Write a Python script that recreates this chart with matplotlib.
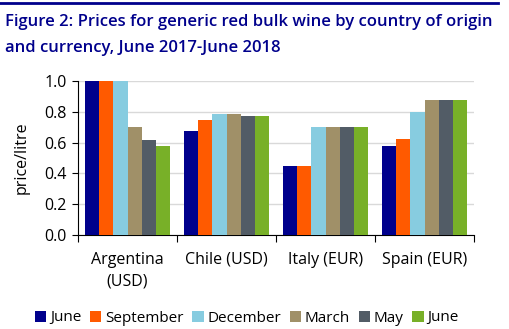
import matplotlib
matplotlib.use("Agg")
import matplotlib.pyplot as plt
import numpy as np
from matplotlib.patches import Patch
from matplotlib.lines import Line2D
import matplotlib.transforms as mtransforms

plt.rcParams['font.family'] = ['Open Sans', 'DejaVu Sans']

categories = ["Argentina\n(USD)", "Chile (USD)", "Italy (EUR)", "Spain (EUR)"]
series_names = ["June", "September", "December", "March", "May", "June"]
values = [
    [1.00, 0.675, 0.45, 0.575],   # June 2017
    [1.00, 0.75, 0.45, 0.625],    # September
    [1.00, 0.785, 0.70, 0.80],    # December
    [0.70, 0.785, 0.70, 0.875],   # March
    [0.62, 0.775, 0.70, 0.875],   # May
    [0.575, 0.775, 0.70, 0.875],  # June 2018
]
colors = ["#00008C", "#FF5A00", "#87CCE0", "#A09068", "#525C66", "#78B028"]
yticks = [0.0, 0.2, 0.4, 0.6, 0.8, 1.0]

fig = plt.figure(figsize=(5.09, 3.29), dpi=100)
ax = fig.add_axes([78/509, 1-235/329, 396/509, 154/329])

n = len(series_names)
group_w = 0.86
bw = group_w / n
x = np.arange(len(categories))
for i, (name, vals, c) in enumerate(zip(series_names, values, colors)):
    ax.bar(x - group_w/2 + bw*(i+0.5), vals, width=bw, color=c, zorder=3, linewidth=0)

ax.set_xlim(-0.5, len(categories)-0.5)
ax.set_ylim(0, 1.0)
ax.set_yticks(yticks)
ax.set_yticklabels([f"{v:.1f}" for v in yticks], fontsize=11.5)
ax.yaxis.grid(True, color="#D9D9D9", linewidth=1, zorder=0)
ax.set_axisbelow(True)
for s in ["top", "right"]:
    ax.spines[s].set_visible(False)
ax.spines["left"].set_color("black")
ax.spines["bottom"].set_color("black")
ax.tick_params(axis="y", length=4, direction="out", pad=4)
ax.set_xticks(np.arange(-0.5, len(categories), 1.0))
ax.set_xticklabels([])
ax.tick_params(axis="x", length=5, direction="out")
trans = mtransforms.blended_transform_factory(ax.transData, fig.transFigure)
for xi, lab in zip(x, categories):
    ax.text(xi, 1-252/329, lab, ha="center", va="top", fontsize=11.5,
            transform=trans, linespacing=1.5)
ax.set_ylabel("price/litre", fontsize=11.5, labelpad=11)

# top rule
fig.add_artist(Line2D([0, 498/509], [1-3/329, 1-3/329], color="#00008C", linewidth=2))
fig.text(5/509, 1-22/329, "Figure 2: Prices for generic red bulk wine by country of origin",
         fontsize=12, color="#00008C", fontweight="semibold", va="center", ha="left")
fig.text(5/509, 1-48/329, "and currency, June 2017-June 2018",
         fontsize=12, color="#00008C", fontweight="semibold", va="center", ha="left")

handles = [Patch(facecolor=c, edgecolor="none") for c in colors]
fig.legend(handles, series_names, loc="center", bbox_to_anchor=(0.485, 1-318/329), ncol=6,
           frameon=False, fontsize=11, handlelength=0.75, handleheight=0.75,
           handletextpad=0.25, columnspacing=0.55, borderaxespad=0)

fig.savefig("out.png", dpi=100)
